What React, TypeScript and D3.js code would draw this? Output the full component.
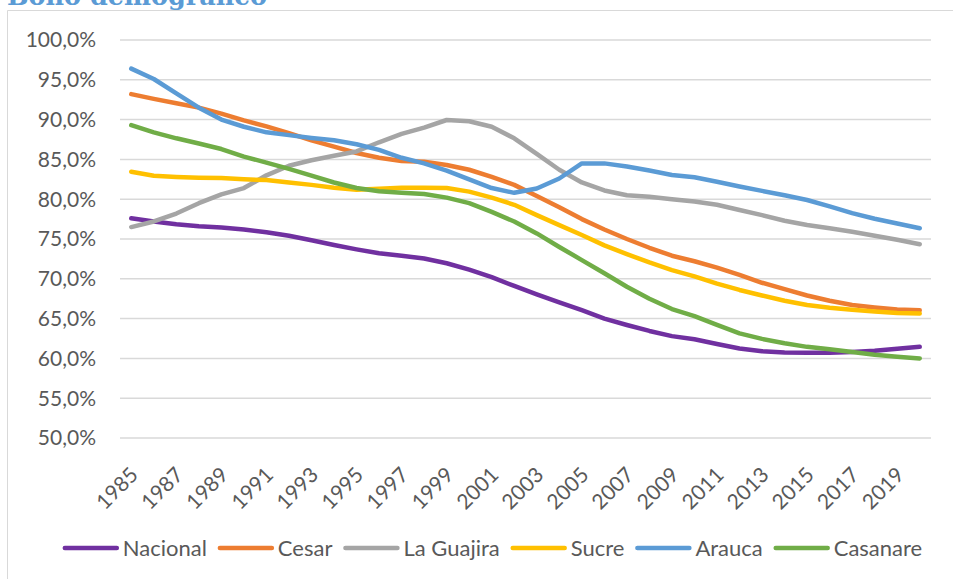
import React, { useEffect, useRef } from "react";
import * as d3 from "d3";

// categories
const years = [
  1985, 1986, 1987, 1988, 1989, 1990, 1991, 1992, 1993, 1994, 1995, 1996,
  1997, 1998, 1999, 2000, 2001, 2002, 2003, 2004, 2005, 2006, 2007, 2008,
  2009, 2010, 2011, 2012, 2013, 2014, 2015, 2016, 2017, 2018, 2019, 2020,
];

// series values (%)
const nacional = [
  77.6, 77.2, 76.85, 76.6, 76.45, 76.2, 75.85, 75.4, 74.85, 74.25, 73.7, 73.2,
  72.9, 72.55, 71.95, 71.15, 70.2, 69.1, 68.05, 67.05, 66.05, 65.0, 64.2, 63.45,
  62.8, 62.4, 61.8, 61.25, 60.9, 60.75, 60.7, 60.7, 60.8, 60.95, 61.2, 61.45,
];
const cesar = [
  93.2, 92.6, 92.05, 91.5, 90.75, 89.9, 89.15, 88.3, 87.4, 86.6, 85.8, 85.2,
  84.8, 84.7, 84.3, 83.7, 82.8, 81.8, 80.4, 79.0, 77.5, 76.2, 75.0, 73.9,
  72.9, 72.2, 71.4, 70.5, 69.5, 68.7, 67.9, 67.25, 66.7, 66.4, 66.15, 66.05,
];
const laGuajira = [
  76.5, 77.2, 78.2, 79.5, 80.6, 81.4, 83.0, 84.2, 84.9, 85.45, 86.0, 87.15,
  88.2, 89.0, 89.95, 89.8, 89.1, 87.65, 85.7, 83.7, 82.1, 81.1, 80.5, 80.3,
  80.0, 79.7, 79.3, 78.65, 78.0, 77.3, 76.75, 76.35, 75.9, 75.4, 74.9, 74.35,
];
const sucre = [
  83.45, 82.95, 82.8, 82.7, 82.65, 82.5, 82.4, 82.1, 81.8, 81.45, 81.2, 81.3,
  81.45, 81.45, 81.4, 80.95, 80.2, 79.3, 78.0, 76.75, 75.5, 74.2, 73.1, 72.05,
  71.1, 70.3, 69.4, 68.6, 67.9, 67.25, 66.7, 66.35, 66.1, 65.9, 65.7, 65.65,
];
const arauca = [
  96.4, 95.1, 93.3, 91.5, 90.0, 89.1, 88.4, 88.05, 87.7, 87.4, 86.9, 86.2,
  85.2, 84.5, 83.6, 82.5, 81.4, 80.8, 81.35, 82.6, 84.5, 84.5, 84.1, 83.6,
  83.05, 82.75, 82.2, 81.6, 81.05, 80.5, 79.9, 79.1, 78.25, 77.55, 76.95, 76.35,
];
const casanare = [
  89.3, 88.4, 87.65, 87.0, 86.3, 85.35, 84.6, 83.8, 82.95, 82.1, 81.4, 81.0,
  80.8, 80.65, 80.2, 79.5, 78.4, 77.2, 75.7, 74.0, 72.35, 70.7, 69.0, 67.5,
  66.2, 65.3, 64.2, 63.15, 62.45, 61.9, 61.45, 61.15, 60.8, 60.45, 60.2, 60.0,
];

const seriesNames = ["Nacional", "Cesar", "La Guajira", "Sucre", "Arauca", "Casanare"];
const seriesValues = [nacional, cesar, laGuajira, sucre, arauca, casanare];
const seriesColors = ["#7030A0", "#ED7D31", "#A5A5A5", "#FFC000", "#5B9BD5", "#70AD47"];

// tick labels
const yTicks = [50, 55, 60, 65, 70, 75, 80, 85, 90, 95, 100];
const xTickLabels = [
  1985, 1987, 1989, 1991, 1993, 1995, 1997, 1999, 2001, 2003, 2005, 2007,
  2009, 2011, 2013, 2015, 2017, 2019,
];

const title = "Bono demográfico";
const font = "Lato, 'Open Sans', sans-serif";
const textColor = "#595959";

function App() {
  const svgRef = useRef<SVGSVGElement>(null);

  useEffect(() => {
    const svg = d3.select(svgRef.current);
    svg.selectAll("*").remove();

    const width = 953;
    const height = 579;
    const plot = { left: 120, right: 931, top: 40, bottom: 438 };

    // frame of the chart (runs off the right and bottom edges)
    svg
      .append("path")
      .attr("d", `M7.5,${height + 5}V10.5H${width + 5}`)
      .attr("fill", "none")
      .attr("stroke", "#D9D9D9")
      .attr("stroke-width", 1);

    // title, cut off at the top as in the source
    svg
      .append("text")
      .attr("x", 7)
      .attr("y", 5)
      .attr("font-family", "'DejaVu Serif', serif")
      .attr("font-weight", "bold")
      .attr("font-size", 25.5)
      .attr("fill", "#5B9BD5")
      .text(title);

    // scales
    const xScale = d3
      .scaleBand<number>()
      .domain(years)
      .range([plot.left, plot.right])
      .padding(0);
    const xPos = (yr: number) => (xScale(yr) as number) + xScale.bandwidth() / 2;

    const yScale = d3.scaleLinear().domain([50, 100]).range([plot.bottom, plot.top]);

    const locale = d3.formatLocale({
      decimal: ",",
      thousands: ".",
      grouping: [3],
      currency: ["", "€"],
    });
    const fmt = locale.format(".1%");

    // gridlines
    svg
      .append("g")
      .selectAll("line")
      .data(yTicks)
      .join("line")
      .attr("x1", plot.left)
      .attr("x2", plot.right)
      .attr("y1", (d) => yScale(d))
      .attr("y2", (d) => yScale(d))
      .attr("stroke", "#D9D9D9")
      .attr("stroke-width", 1.5);

    // y labels
    svg
      .append("g")
      .selectAll("text")
      .data(yTicks)
      .join("text")
      .attr("x", 96)
      .attr("y", (d) => yScale(d))
      .attr("dy", "0.35em")
      .attr("text-anchor", "end")
      .attr("font-family", font)
      .attr("font-size", 21)
      .attr("fill", textColor)
      .text((d) => fmt(d / 100));

    // x labels
    svg
      .append("g")
      .selectAll("text")
      .data(xTickLabels)
      .join("text")
      .attr("transform", (d) => `translate(${xPos(d) + 3},${plot.bottom + 33}) rotate(-45)`)
      .attr("dy", "0.35em")
      .attr("text-anchor", "end")
      .attr("font-family", font)
      .attr("font-size", 21)
      .attr("fill", textColor)
      .text((d) => String(d));

    // lines
    const lineGen = d3
      .line<number>()
      .x((_, i) => xPos(years[i]))
      .y((v) => yScale(v));

    svg
      .append("g")
      .selectAll("path")
      .data(seriesValues)
      .join("path")
      .attr("d", (vals) => lineGen(vals))
      .attr("fill", "none")
      .attr("stroke", (_, i) => seriesColors[i])
      .attr("stroke-width", 4.5)
      .attr("stroke-linecap", "round")
      .attr("stroke-linejoin", "round");

    // legend
    const legend = svg.append("g");
    const swatch = 56;
    let cursor = 0;
    seriesNames.forEach((name, i) => {
      const item = legend.append("g").attr("transform", `translate(${cursor},0)`);
      item
        .append("line")
        .attr("x1", 2)
        .attr("x2", swatch - 2)
        .attr("stroke", seriesColors[i])
        .attr("stroke-width", 4.5)
        .attr("stroke-linecap", "round");
      const t = item
        .append("text")
        .attr("x", swatch + 4)
        .attr("dy", "0.35em")
        .attr("font-family", font)
        .attr("font-size", 22)
        .attr("fill", textColor)
        .text(name);
      const w = (t.node() as SVGTextElement).getComputedTextLength();
      cursor += swatch + 4 + w + 11;
    });
    cursor -= 11;
    legend.attr("transform", `translate(${492.5 - cursor / 2},548)`);
  }, []);

  return (
    <svg
      ref={svgRef}
      width={953}
      height={579}
      style={{ position: "absolute", left: 0, top: 0, background: "#fff" }}
    />
  );
}

export default App;
